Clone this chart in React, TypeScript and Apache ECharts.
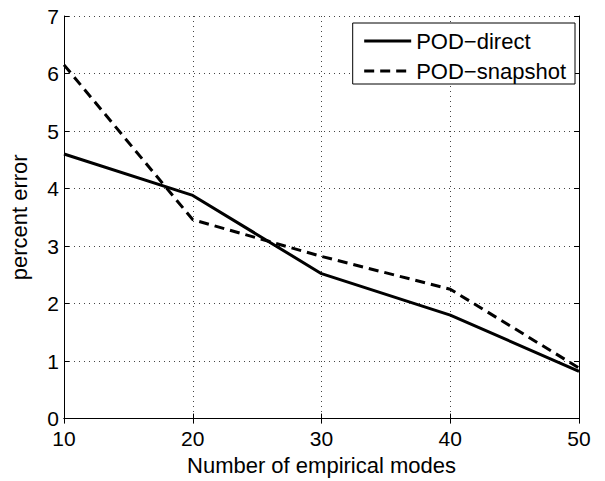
import React, { useEffect, useRef } from "react";
import * as echarts from "echarts";

const modes = [10, 20, 30, 40, 50];
const podDirect = [4.6, 3.88, 2.52, 1.8, 0.82];
const podSnapshot = [6.15, 3.46, 2.82, 2.25, 0.88];
const xTicks = [10, 20, 30, 40, 50];
const yTicks = [0, 1, 2, 3, 4, 5, 6, 7];

const FONT = "Liberation Sans";

export default function App() {
  const ref = useRef<HTMLDivElement>(null);
  useEffect(() => {
    if (!ref.current) return;
    const chart = echarts.init(ref.current, null, { renderer: "svg" });
    const sideAxis = {
      axisLine: { show: true, lineStyle: { color: "#000", width: 1 } },
      axisTick: { show: true, inside: true, length: 5, lineStyle: { color: "#000" } },
      axisLabel: { show: false },
      splitLine: { show: false },
    };
    chart.setOption({
      animation: false,
      backgroundColor: "#fff",
      textStyle: { fontFamily: FONT },
      grid: { left: 58, right: 26, top: 16, bottom: 54, containLabel: false },
      legend: {
        orient: "vertical",
        right: 30,
        top: 23,
        padding: [7, 9, 2, 10],
        itemWidth: 47,
        itemHeight: 20,
        itemGap: 8,
        borderColor: "#000",
        borderWidth: 1,
        borderRadius: 0,
        backgroundColor: "#fff",
        itemStyle: { opacity: 0 },
        lineStyle: { width: 3 },
        textStyle: { fontFamily: FONT, fontSize: 22, color: "#000" },
        data: ["POD\u2212direct", "POD\u2212snapshot"],
      },
      xAxis: [
        {
          type: "value",
          min: xTicks[0],
          max: xTicks[xTicks.length - 1],
          interval: 10,
          name: "Number of empirical modes",
          nameLocation: "middle",
          nameGap: 30,
          nameTextStyle: { fontFamily: FONT, fontSize: 22, lineHeight: 20, color: "#000" },
          axisLine: { show: true, onZero: false, lineStyle: { color: "#000", width: 1 } },
          axisTick: { show: true, inside: true, length: 5, lineStyle: { color: "#000" } },
          axisLabel: { margin: 11, lineHeight: 18, fontFamily: FONT, fontSize: 21, color: "#000" },
          splitLine: { show: true, lineStyle: { color: "#444", type: [1, 4], width: 1 } },
        },
        { type: "value", position: "top", min: 10, max: 50, interval: 10, ...sideAxis },
      ],
      yAxis: [
        {
          type: "value",
          min: yTicks[0],
          max: yTicks[yTicks.length - 1],
          interval: 1,
          name: "percent error",
          nameLocation: "middle",
          nameGap: 34,
          nameTextStyle: { fontFamily: FONT, fontSize: 22, color: "#000" },
          axisLine: { show: true, onZero: false, lineStyle: { color: "#000", width: 1 } },
          axisTick: { show: true, inside: true, length: 5, lineStyle: { color: "#000" } },
          axisLabel: { margin: 5, lineHeight: 18, fontFamily: FONT, fontSize: 21, color: "#000" },
          splitLine: { show: true, lineStyle: { color: "#444", type: [1, 4], width: 1 } },
        },
        { type: "value", position: "right", min: 0, max: 7, interval: 1, ...sideAxis },
      ],
      series: [
        {
          name: "POD\u2212direct",
          type: "line",
          data: modes.map((m, i) => [m, podDirect[i]]),
          symbol: "none",
          lineStyle: { color: "#000", width: 3 },
          itemStyle: { color: "#000" },
        },
        {
          name: "POD\u2212snapshot",
          type: "line",
          data: modes.map((m, i) => [m, podSnapshot[i]]),
          symbol: "none",
          lineStyle: { color: "#000", width: 3, type: [10, 6] },
          itemStyle: { color: "#000" },
        },
      ],
    });
    return () => chart.dispose();
  }, []);
  return <div ref={ref} style={{ width: 605, height: 481, position: "absolute", left: 0, top: 0 }} />;
}
